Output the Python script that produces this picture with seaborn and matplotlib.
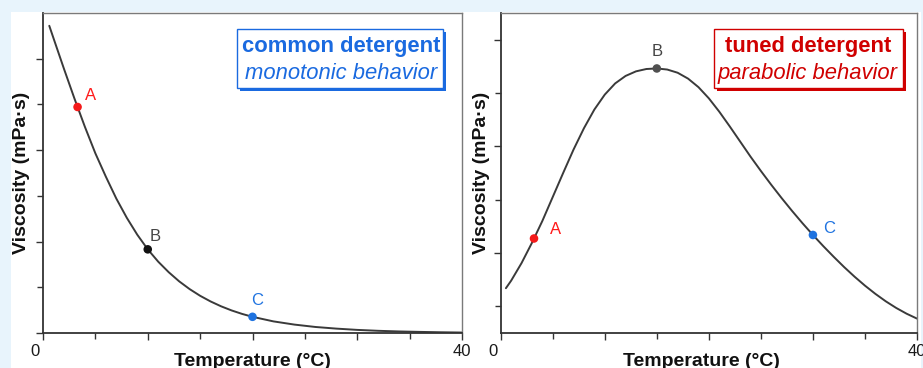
import matplotlib
matplotlib.use("Agg")
import matplotlib.pyplot as plt
import seaborn as sns
from matplotlib.patches import Rectangle
from matplotlib.ticker import FixedLocator

# ---- data -------------------------------------------------------------
common_temp = [0.6, 1, 2, 3, 4, 5, 6, 7, 8, 9, 10, 11, 12, 13, 14, 15, 16, 17,
               18, 19, 20, 22, 24, 26, 28, 30, 32, 34, 36, 38, 40]
common_visc = [3.36, 3.225, 2.89, 2.565, 2.255, 1.965, 1.71, 1.47, 1.26,
               1.075, 0.915, 0.78, 0.665, 0.565, 0.48, 0.407, 0.345, 0.292,
               0.247, 0.209, 0.177, 0.127, 0.092, 0.066, 0.048, 0.034, 0.024,
               0.017, 0.012, 0.008, 0.005]

tuned_temp = [0.5, 1, 2, 3, 4, 5, 6, 7, 8, 9, 10, 11, 12, 13, 14, 15, 16, 17,
              18, 19, 20, 21, 22, 23, 24, 25, 26, 27, 28, 29, 30, 31, 32, 33,
              34, 35, 36, 37, 38, 39, 40]
tuned_visc = [0.67, 0.74, 0.905, 1.095, 1.30, 1.525, 1.75, 1.97, 2.17, 2.345,
              2.485, 2.59, 2.66, 2.703, 2.725, 2.73, 2.72, 2.69, 2.635, 2.555,
              2.45, 2.325, 2.188, 2.046, 1.904, 1.769, 1.639, 1.514, 1.394,
              1.279, 1.169, 1.064, 0.964, 0.868, 0.778, 0.694, 0.617, 0.547,
              0.485, 0.431, 0.385]

point_names = ["A", "B", "C"]
common_pt_temp = [3.3, 10, 20]
common_pt_visc = [2.472, 0.915, 0.177]
tuned_pt_temp = [3.2, 15, 30]
tuned_pt_visc = [1.136, 2.73, 1.169]

x_tick_labels = ["0", "40"]

# ---- style ------------------------------------------------------------
sns.set_theme(style="ticks")
plt.rcParams["font.family"] = ["Liberation Sans", "DejaVu Sans"]

RED = "#f41a1a"
BLUE = "#1f73e0"
DARK = "#3a3a3a"
BOX_BLUE = "#1a6ae0"
BOX_RED = "#d00000"

W, H = 923, 368
fig = plt.figure(figsize=(W / 100, H / 100), dpi=100)
fig.patch.set_facecolor("#e8f4fc")
fig.add_artist(Rectangle((11 / W, 0), (921 - 11) / W, (H - 12) / H,
                         transform=fig.transFigure, facecolor="white",
                         edgecolor="none", zorder=0))


def px_axes(x0, x1, y0, y1):
    return fig.add_axes([x0 / W, 1 - y1 / H, (x1 - x0) / W, (y1 - y0) / H])


ax_l = px_axes(43, 462, 13, 333)
ax_r = px_axes(500.7, 917, 13, 333)


def style_axes(ax, ylim, ymaj, ymin):
    ax.set_facecolor("none")
    ax.set_xlim(0, 40)
    ax.set_ylim(*ylim)
    ax.xaxis.set_major_locator(FixedLocator([0, 10, 20, 30, 40]))
    ax.xaxis.set_minor_locator(FixedLocator([5, 15, 25, 35]))
    ax.yaxis.set_major_locator(FixedLocator(ymaj))
    ax.yaxis.set_minor_locator(FixedLocator(ymin))
    ax.set_xticklabels([])
    ax.set_yticklabels([])
    ax.tick_params(which="both", direction="out", color="#333333", width=1.0)
    ax.tick_params(which="major", length=5)
    ax.tick_params(which="minor", length=4)
    for side in ("left", "bottom"):
        ax.spines[side].set_color("#333333")
        ax.spines[side].set_linewidth(1.3)
    for side in ("top", "right"):
        ax.spines[side].set_color("#7a7a7a")
        ax.spines[side].set_linewidth(1.0)
    # end labels of the temperature axis
    for xv, lab, dx in zip([0, 40], x_tick_labels, [-8, 0]):
        ax.annotate(lab, xy=(xv, 0), xycoords=("data", "axes fraction"),
                    xytext=(dx, -18), textcoords="offset pixels",
                    ha="center", va="center", fontsize=12, color="#1a1a1a",
                    annotation_clip=False)


style_axes(ax_l, (0, 3.5), [0, 1, 2, 3], [0.5, 1.5, 2.5])
style_axes(ax_r, (0.25, 3.25), [1, 2, 3], [0.5, 1.5, 2.5])

# ---- curves and marked points ----------------------------------------
for ax, xs, ys in ((ax_l, common_temp, common_visc),
                   (ax_r, tuned_temp, tuned_visc)):
    sns.lineplot(x=xs, y=ys, ax=ax, color=DARK, lw=1.4,
                 solid_joinstyle="round", solid_capstyle="round")

sns.scatterplot(x=common_pt_temp, y=common_pt_visc, hue=point_names, ax=ax_l,
                palette={"A": RED, "B": "#111111", "C": BLUE}, s=38,
                edgecolor="none", legend=False, zorder=4)
sns.scatterplot(x=tuned_pt_temp, y=tuned_pt_visc, hue=point_names, ax=ax_r,
                palette={"A": RED, "B": "#505050", "C": BLUE}, s=38,
                edgecolor="none", legend=False, zorder=4)

label_colors = {"A": "#ff1a1a", "B": "#454545", "C": BLUE}
left_offsets = [(13, 11), (7, 13), (5, 16)]
right_offsets = [(22, 9), (0, 17), (16, 6)]
for ax, xs, ys, offs in ((ax_l, common_pt_temp, common_pt_visc, left_offsets),
                         (ax_r, tuned_pt_temp, tuned_pt_visc, right_offsets)):
    for name, xv, yv, off in zip(point_names, xs, ys, offs):
        ax.annotate(name, xy=(xv, yv), xytext=off, textcoords="offset pixels",
                    ha="center", va="center", fontsize=12,
                    color=label_colors[name])

# ---- axis titles -----------------------------------------------------
for ax, yx, xx in ((ax_l, -0.0415, 0.5), (ax_r, -0.0363, 0.481)):
    ax.set_xlabel("Temperature (°C)", fontsize=14, fontweight="bold",
                  color="#111111")
    ax.set_ylabel("Viscosity (mPa·s)", fontsize=14, fontweight="bold",
                  color="#111111")
    ax.xaxis.label.set_verticalalignment("baseline")
    ax.xaxis.set_label_coords(xx, -0.102)
    ax.yaxis.label.set_verticalalignment("baseline")
    ax.yaxis.set_label_coords(yx, 0.5)


# ---- framed captions -------------------------------------------------
def caption_box(x0, x1, y0, y1, color, line1, line2, cx):
    fig.add_artist(Rectangle(((x0 + 3) / W, 1 - (y1 + 3) / H),
                             (x1 - x0) / W, (y1 - y0) / H,
                             transform=fig.transFigure, facecolor=color,
                             edgecolor="none", zorder=5))
    fig.add_artist(Rectangle((x0 / W, 1 - y1 / H), (x1 - x0) / W,
                             (y1 - y0) / H, transform=fig.transFigure,
                             facecolor="white", edgecolor=color, lw=1.0,
                             zorder=6))
    fig.text(cx / W, 1 - 52 / H, line1, ha="center", va="baseline",
             fontsize=15.8, fontweight="bold", color=color, zorder=7)
    fig.text(cx / W, 1 - 79 / H, line2, ha="center", va="baseline",
             fontsize=15.8, fontstyle="italic", color=color, zorder=7)


caption_box(237, 443, 29, 88, BOX_BLUE, "common detergent",
            "monotonic behavior", 341)
caption_box(714, 903, 29, 88, BOX_RED, "tuned detergent",
            "parabolic behavior", 808)

fig.savefig("out.png", dpi=100, facecolor=fig.get_facecolor())
